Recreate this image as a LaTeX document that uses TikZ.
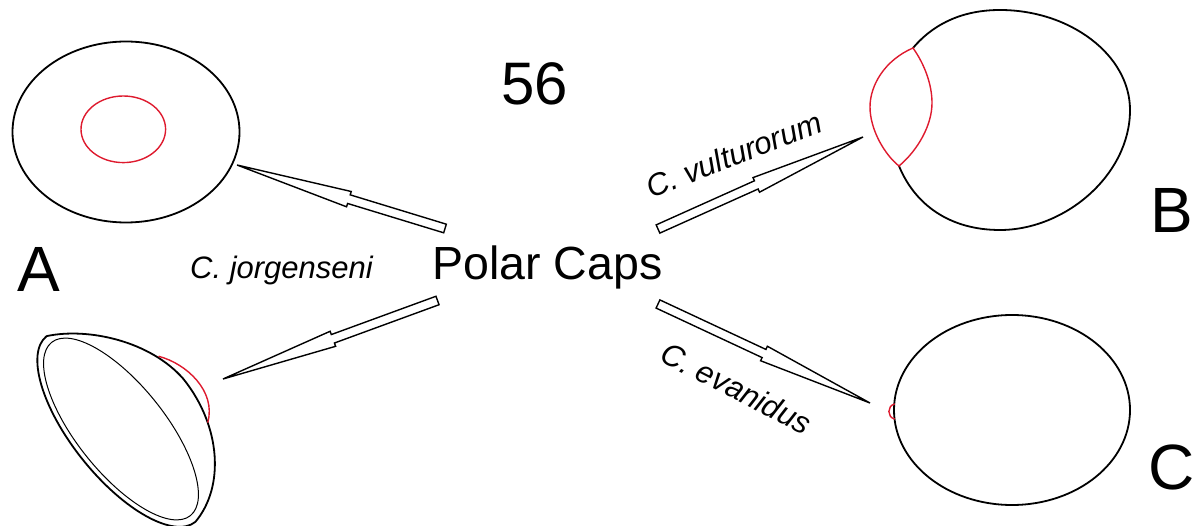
\documentclass[tikz,border=0pt]{standalone}
\usepackage{fontspec}
\setmainfont{Liberation Sans}
\usetikzlibrary{calc}
\definecolor{capred}{RGB}{222,26,46}
\tikzset{
  outline/.style={draw=black, line width=1.8pt, line cap=round, line join=round},
  thinline/.style={draw=black, line width=1pt},
  capline/.style={draw=capred, line width=1.4pt, line cap=round},
  caparrow/.style={draw=black, line width=1.4pt, fill=white},
  letter/.style={font=\fontsize{64}{70}\selectfont, anchor=base},
  species/.style={font=\fontsize{31}{34}\selectfont\itshape, anchor=base},
}
% open arrow with a narrow shaft and a long tapering head: #1 tail, #2 tip
\newcommand\capsarrow[2]{%
  \coordinate (cap-sh) at ($(#2)!117pt!(#1)$);
  \draw[caparrow]
    ($(#1)!4.5pt!-90:(#2)$) -- ($(cap-sh)!4.5pt!-90:(#2)$) --
    ($(cap-sh)!8pt!-90:(#2)$) -- (#2) --
    ($(cap-sh)!8pt!90:(#2)$) -- ($(cap-sh)!4.5pt!90:(#2)$) --
    ($(#1)!4.5pt!90:(#2)$) -- cycle;}
\begin{document}
\begin{tikzpicture}[x=1pt,y=1pt]
\useasboundingbox (0,0) rectangle (1196,-526);

% cell A, apical view with the cap in the middle
\draw[outline] (126,-132) ellipse [x radius=113.5, y radius=90.5];
\draw[capline] (123.3,-129.3) ellipse [x radius=42.3, y radius=33.3];

% cell A, oblique view of the cup
\begin{scope}[shift={(121,-429)}, rotate=-51.3]
  \draw[outline] (-119,0) arc[start angle=180, end angle=360, x radius=119, y radius=49]
    .. controls (110,45) and (60,80) .. (0,80)
    .. controls (-50,78) and (-100,38) .. (-119,0);
  \draw[thinline] (0,0) ellipse [x radius=111, y radius=44];
  \draw[capline] (-33,75) .. controls (-10,92) and (30,98) .. (49,72);
\end{scope}

% cell B with the large cap
\draw[outline] (913,-48) .. controls (935,-22) and (965,-10) .. (1000,-10)
  .. controls (1070,-10) and (1130,-55) .. (1130,-110)
  .. controls (1130,-175) and (1065,-230) .. (1000,-230)
  .. controls (950,-230) and (915,-205) .. (899,-166);
\draw[capline] (913,-48) .. controls (885,-60) and (870,-85) .. (870,-107)
  .. controls (870,-130) and (885,-155) .. (899,-166)
  .. controls (918,-150) and (932,-125) .. (932,-103)
  .. controls (932,-85) and (925,-65) .. (913,-48) -- cycle;

% cell C with the tiny cap
\draw[outline] (1012,-410) ellipse [x radius=118, y radius=95];
\draw[capline] (894.5,-404) .. controls (887,-406) and (887,-417) .. (894.5,-419);

% texts
\node[font=\fontsize{60}{66}\selectfont, anchor=base] (num) at (534.5,-105) {56};
\node[font=\fontsize{46.5}{50}\selectfont, anchor=base] (caps) at (547.5,-280) {Polar Caps};
\node[letter] (labA) at (38.5,-292) {A};
\node[letter] (labB) at (1172,-233) {B};
\node[letter] (labC) at (1172,-489) {C};
\node[species] (jor) at (281.5,-279) {C. jorgenseni};
\node[species, rotate=21.2] (vul) at (738,-165) {C. vulturorum};
\node[species, rotate=-27] (eva) at (731.5,-398) {C. evanidus};

% arrows from the central label to the cells
\coordinate (tailA1) at (445,-228.5);
\coordinate (tipA1) at (237,-165);
\coordinate (tailA2) at (437.5,-300.5);
\coordinate (tipA2) at (223,-379);
\coordinate (tailB) at (658,-229);
\coordinate (tipB) at (863,-137);
\coordinate (tailC) at (658,-304);
\coordinate (tipC) at (870,-403);
\capsarrow{tailA1}{tipA1}
\capsarrow{tailA2}{tipA2}
\capsarrow{tailB}{tipB}
\capsarrow{tailC}{tipC}
\end{tikzpicture}
\end{document}
